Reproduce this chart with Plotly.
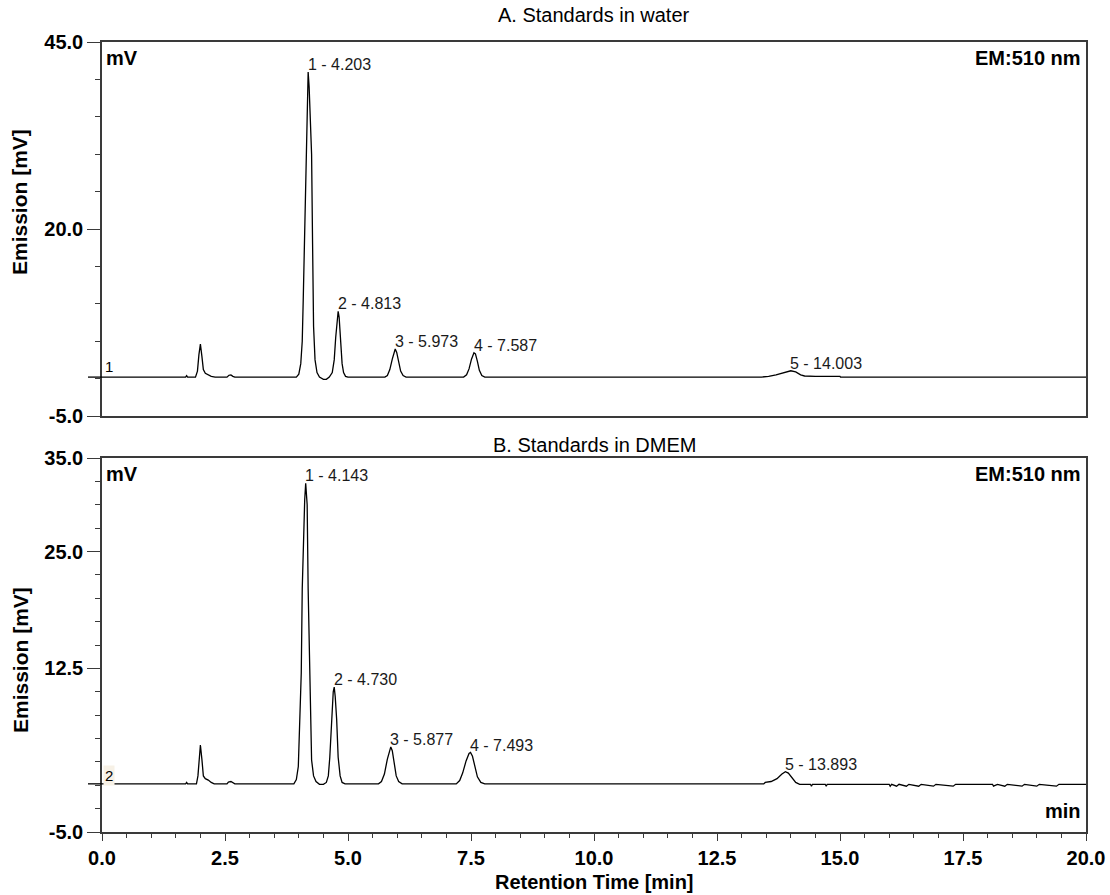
import plotly.graph_objects as go

# ---------------- data ----------------
# Panel A: standards in water, trace points (time [min], emission [mV])
a_time = [0.0, 1.70, 1.72, 1.74, 1.90, 1.94, 1.97, 2.00, 2.03, 2.06, 2.10, 2.16, 2.22, 2.30,
          2.54, 2.58, 2.62, 2.66, 2.70,
          3.95, 4.00, 4.04, 4.07, 4.09, 4.11, 4.13, 4.16, 4.19, 4.21, 4.23, 4.26, 4.28, 4.30,
          4.33, 4.37, 4.42, 4.50, 4.56, 4.62, 4.68, 4.72, 4.75, 4.78, 4.80, 4.82, 4.85, 4.88,
          4.91, 4.95, 5.00,
          5.75, 5.80, 5.85, 5.90, 5.94, 5.96, 5.99, 6.03, 6.07, 6.12, 6.18,
          7.35, 7.41, 7.46, 7.51, 7.56, 7.59, 7.63, 7.67, 7.72, 7.78,
          13.40, 13.55, 13.70, 13.85, 14.00, 14.10, 14.20, 14.28, 14.50, 15.00, 15.01, 20.0]
a_mv = [0.2, 0.2, 0.4, 0.2, 0.2, 1.0, 3.2, 4.6, 3.0, 1.2, 0.7, 0.5, 0.3, 0.2,
        0.2, 0.45, 0.5, 0.3, 0.2,
        0.2, 0.6, 2.0, 5.0, 10.5, 16.0, 22.0, 33.0, 41.0, 39.0, 36.0, 30.0, 18.0, 7.0,
        2.5, 0.8, 0.2, -0.1, -0.1, 0.2, 0.8, 2.5, 5.5, 8.0, 9.0, 8.2, 5.0, 2.0,
        0.8, 0.3, 0.2,
        0.2, 0.4, 1.2, 2.6, 3.7, 3.96, 3.5, 2.2, 1.0, 0.4, 0.2,
        0.2, 0.5, 1.3, 2.6, 3.45, 3.3, 2.3, 1.1, 0.4, 0.2,
        0.2, 0.3, 0.5, 0.8, 1.05, 0.9, 0.5, 0.35, 0.3, 0.3, 0.2, 0.2]

# Panel B: standards in DMEM
b_time = [0.0, 1.70, 1.72, 1.74, 1.92, 1.95, 1.98, 2.00, 2.03, 2.06, 2.10, 2.16, 2.22, 2.28,
          2.54, 2.57, 2.62, 2.66, 2.70,
          3.90, 3.95, 3.99, 4.02, 4.05, 4.07, 4.10, 4.12, 4.14, 4.15, 4.17, 4.19, 4.21, 4.23,
          4.26, 4.30, 4.35, 4.42, 4.50, 4.56, 4.60, 4.63, 4.67, 4.70, 4.72, 4.74, 4.77, 4.80,
          4.84, 4.88, 4.94,
          5.62, 5.68, 5.74, 5.80, 5.85, 5.87, 5.90, 5.94, 5.98, 6.03, 6.10,
          7.20, 7.27, 7.33, 7.40, 7.46, 7.49, 7.53, 7.58, 7.63, 7.70, 7.78,
          13.45, 13.48, 13.60, 13.72, 13.82, 13.89, 13.95, 14.02, 14.10, 14.18,
          14.40, 14.42, 14.44, 14.70, 14.72, 14.74,
          16.00, 16.02, 16.05, 16.15, 16.20, 16.35, 16.40, 16.60, 16.65, 16.90, 16.95,
          17.30, 17.35, 18.10, 18.12, 18.20, 18.35, 18.40, 18.70, 18.75, 19.00, 19.05,
          19.40, 19.45, 19.75, 20.0]
b_mv = [0.15, 0.15, 0.3, 0.15, 0.15, 1.0, 3.0, 4.3, 2.8, 1.0, 0.7, 0.55, 0.3, 0.15,
        0.15, 0.35, 0.4, 0.25, 0.15,
        0.15, 0.6, 2.0, 6.0, 12.0, 21.0, 28.0, 30.5, 32.3, 31.0, 30.0, 21.0, 15.0, 10.0,
        2.7, 1.0, 0.4, 0.1, 0.1, 0.3, 1.0, 3.0, 8.0, 10.0, 10.5, 9.5, 7.0, 3.0,
        1.0, 0.3, 0.15,
        0.15, 0.4, 1.2, 2.8, 3.9, 4.1, 3.7, 2.4, 1.0, 0.4, 0.15,
        0.15, 0.5, 1.3, 2.6, 3.4, 3.5, 3.1, 2.0, 0.9, 0.3, 0.15,
        0.15, 0.3, 0.4, 0.7, 1.2, 1.45, 1.3, 0.8, 0.3, 0.1,
        0.1, -0.1, 0.1, 0.1, -0.1, 0.1,
        0.1, -0.1, 0.1, -0.1, 0.1, -0.1, 0.1, -0.1, 0.1, -0.1, 0.1,
        -0.1, 0.1, 0.1, -0.1, 0.1, -0.1, 0.1, -0.1, 0.1, -0.1, 0.1,
        -0.1, 0.1, 0.1, 0.1]

# Peak tables: retention time, apex height
a_peak_rt = [4.203, 4.813, 5.973, 7.587, 14.003]
a_peak_h = [41.0, 9.0, 3.96, 3.45, 1.05]
b_peak_rt = [4.143, 4.730, 5.877, 7.493, 13.893]
b_peak_h = [32.3, 10.5, 4.1, 3.5, 1.45]
peak_ids = [1, 2, 3, 4, 5]

panel_titles = ["A. Standards in water", "B. Standards in DMEM"]
a_yticks = [45.0, 20.0, -5.0]
b_yticks = [35.0, 25.0, 12.5, -5.0]
x_ticks = [0.0, 2.5, 5.0, 7.5, 10.0, 12.5, 15.0, 17.5, 20.0]
a_baseline = 0.2
b_baseline = 0.15

# ---------------- figure ----------------
W, H = 1110, 895
L, R, T, B = 102, 24, 42, 63
pw, ph = W - L - R, H - T - B
top_dom = [(832 - 416) / ph, 1.0]
bot_dom = [0.0, (832 - 458) / ph]

FONT = "Liberation Sans, Arial, sans-serif"
AX = "#3a3a3a"

fig = go.Figure()
fig.add_trace(go.Scatter(x=a_time, y=a_mv, mode="lines", xaxis="x", yaxis="y",
                         line=dict(color="black", width=1.3), showlegend=False,
                         hoverinfo="skip"))
fig.add_trace(go.Scatter(x=b_time, y=b_mv, mode="lines", xaxis="x2", yaxis="y2",
                         line=dict(color="black", width=1.3), showlegend=False,
                         hoverinfo="skip"))

tickfont = dict(family=FONT, size=20, color="black", weight="bold")

fig.update_layout(
    width=W, height=H,
    margin=dict(l=L, r=R, t=T, b=B, autoexpand=False),
    paper_bgcolor="white", plot_bgcolor="white",
    font=dict(family=FONT, color="black"),
    xaxis=dict(domain=[0, 1], range=[0, 20], anchor="y", showgrid=False, zeroline=False,
               showline=True, linecolor=AX, linewidth=1.5, mirror=True, automargin=False,
               ticks="", showticklabels=False),
    yaxis=dict(domain=top_dom, range=[-5, 45], anchor="x", showgrid=False, zeroline=False,
               showline=True, linecolor=AX, linewidth=1.5, mirror=True, automargin=False,
               tickmode="array", tickvals=a_yticks,
               ticktext=[f"{v:.1f}" for v in a_yticks],
               ticks="outside", ticklen=13, tickcolor=AX, tickwidth=1,
               tickfont=tickfont,
               minor=dict(tickmode="linear", tick0=-5, dtick=5, ticks="outside",
                          ticklen=5, tickcolor=AX, tickwidth=1, showgrid=False)),
    xaxis2=dict(domain=[0, 1], range=[0, 20], anchor="y2", showgrid=False, zeroline=False,
                showline=True, linecolor=AX, linewidth=1.5, mirror=True, automargin=False,
                tickmode="array", tickvals=x_ticks,
                ticktext=[f"{v:.1f}" for v in x_ticks],
                ticks="outside", ticklen=7, tickcolor=AX, tickwidth=1,
                tickfont=tickfont, ticklabeloverflow="allow",
                minor=dict(tickmode="linear", tick0=0, dtick=0.5, ticks="outside",
                           ticklen=4, tickcolor=AX, tickwidth=1, showgrid=False)),
    yaxis2=dict(domain=bot_dom, range=[-5, 35], anchor="x2", showgrid=False, zeroline=False,
                showline=True, linecolor=AX, linewidth=1.5, mirror=True, automargin=False,
                tickmode="array", tickvals=b_yticks,
                ticktext=[f"{v:.1f}" for v in b_yticks],
                ticks="outside", ticklen=13, tickcolor=AX, tickwidth=1,
                tickfont=tickfont,
                minor=dict(tickmode="linear", tick0=-5, dtick=2.5, ticks="outside",
                           ticklen=5, tickcolor=AX, tickwidth=1, showgrid=False)),
)

ann = []
# panel titles
ann.append(dict(text=panel_titles[0], xref="paper", yref="paper", x=0.5, y=1.0,
                yshift=27, xanchor="center", yanchor="middle", showarrow=False,
                font=dict(family=FONT, size=20)))
ann.append(dict(text=panel_titles[1], xref="paper", yref="paper", x=0.5, y=bot_dom[1],
                yshift=13, xanchor="center", yanchor="middle", showarrow=False,
                font=dict(family=FONT, size=20)))
# axis titles
for yc in (202, 660):
    ann.append(dict(text="<b>Emission [mV]</b>", xref="paper", yref="paper",
                    x=-(102 - 20) / pw, y=(832 - yc) / ph, textangle=-90,
                    xanchor="center", yanchor="middle", showarrow=False,
                    font=dict(family=FONT, size=21)))
ann.append(dict(text="<b>Retention Time [min]</b>", xref="paper", yref="paper",
                x=0.5, y=0, yshift=-50, xanchor="center", yanchor="middle",
                showarrow=False, font=dict(family=FONT, size=20)))

# corner labels
for yr in ("y domain", "y2 domain"):
    xr = "x domain" if yr == "y domain" else "x2 domain"
    ann.append(dict(text="<b>mV</b>", xref=xr, yref=yr, x=0, y=1, xshift=2, yshift=-3,
                    xanchor="left", yanchor="top", showarrow=False,
                    font=dict(family=FONT, size=20)))
    ann.append(dict(text="<b>EM:510 nm</b>", xref=xr, yref=yr, x=1, y=1, xshift=-3,
                    yshift=-3, xanchor="right", yanchor="top", showarrow=False,
                    font=dict(family=FONT, size=20)))
ann.append(dict(text="<b>min</b>", xref="x2 domain", yref="y2 domain", x=1, y=0,
                xshift=-3, yshift=8, xanchor="right", yanchor="bottom", showarrow=False,
                font=dict(family=FONT, size=20)))

# channel numbers at baseline
ann.append(dict(text="1", xref="x", yref="y", x=0, y=a_baseline, xshift=1, yshift=0,
                xanchor="left", yanchor="bottom", showarrow=False,
                font=dict(family=FONT, size=15)))
ann.append(dict(text="2", xref="x2", yref="y2", x=0, y=b_baseline, xshift=1, yshift=-2,
                xanchor="left", yanchor="bottom", showarrow=False, bgcolor="#f7f1e6",
                font=dict(family=FONT, size=15)))

# peak labels
for rt, h, pid in zip(a_peak_rt, a_peak_h, peak_ids):
    ann.append(dict(text=f"{pid} - {rt:.3f}", xref="x", yref="y", x=rt, y=h,
                    xshift=-3, yshift=-3, xanchor="left", yanchor="bottom",
                    showarrow=False, font=dict(family=FONT, size=16, color="#1a1a1a")))
for rt, h, pid in zip(b_peak_rt, b_peak_h, peak_ids):
    ann.append(dict(text=f"{pid} - {rt:.3f}", xref="x2", yref="y2", x=rt, y=h,
                    xshift=-3, yshift=-3, xanchor="left", yanchor="bottom",
                    showarrow=False, font=dict(family=FONT, size=16, color="#1a1a1a")))

fig.update_layout(annotations=ann)

# baseline markers left of the y axes
fig.add_shape(type="line", xref="x domain", yref="y", x0=-14 / pw, x1=0,
              y0=a_baseline, y1=a_baseline, line=dict(color="black", width=1.3))
fig.add_shape(type="line", xref="x2 domain", yref="y2", x0=-14 / pw, x1=0,
              y0=b_baseline, y1=b_baseline, line=dict(color="black", width=1.3))

# remove the default page margin so the 1110x895 figure fills the window exactly
fig.write_html("out.html", config={"displayModeBar": False},
               post_script="document.body.style.margin='0';"
                           "document.body.style.overflow='hidden';")
